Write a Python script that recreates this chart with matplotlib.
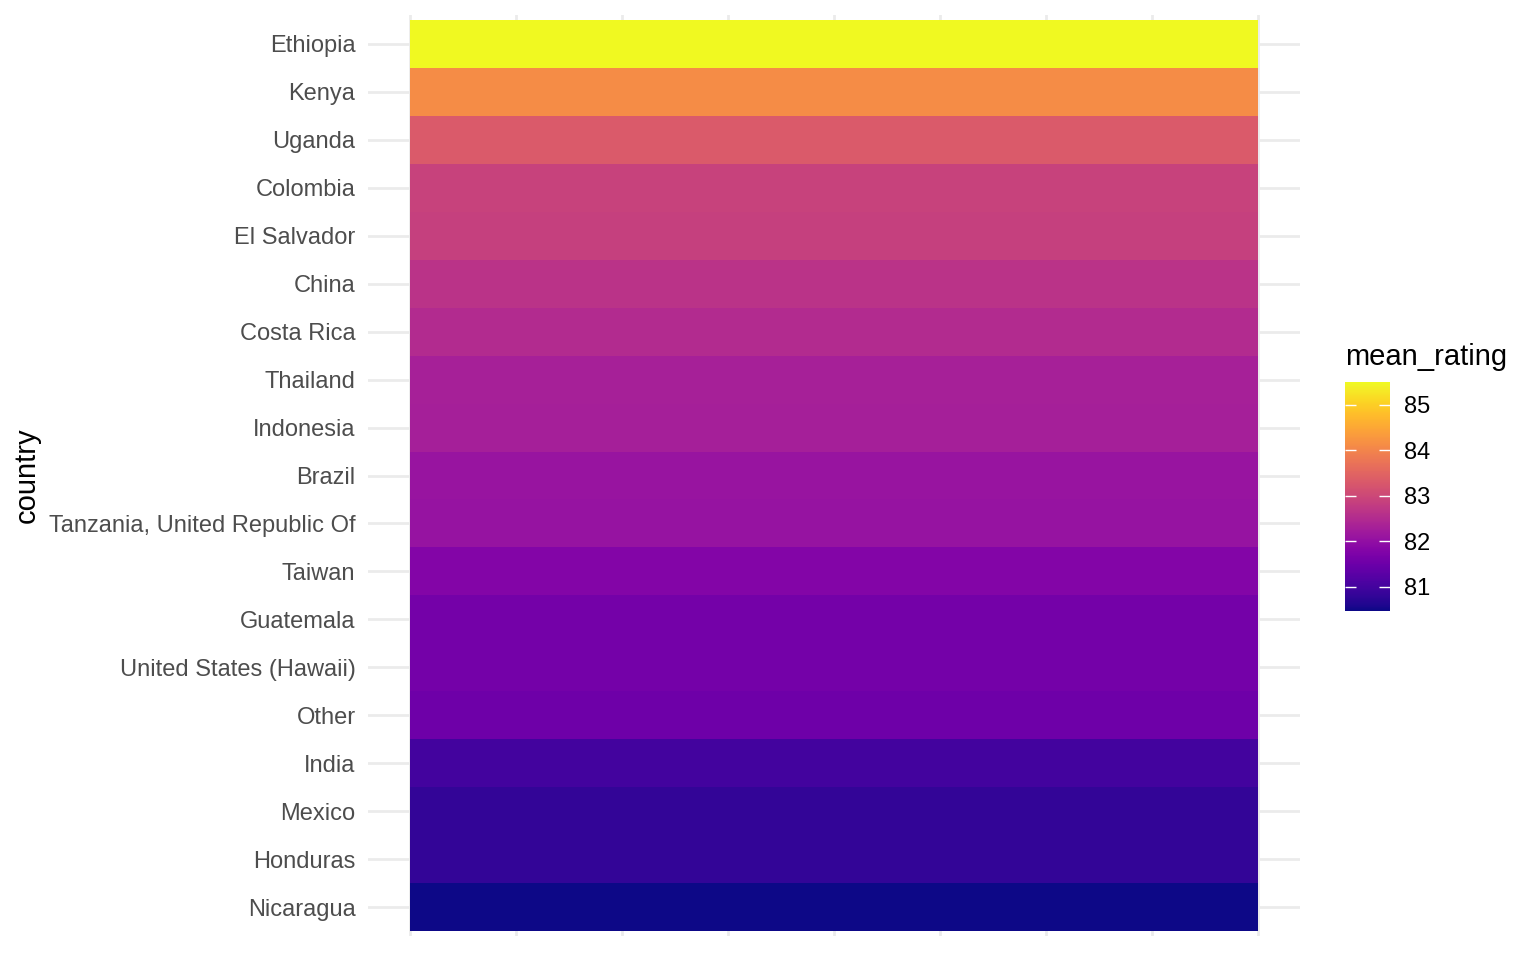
import matplotlib.pyplot as plt
import numpy as np

plt.rcParams["font.family"] = ["Liberation Sans", "DejaVu Sans"]

# data (top to bottom)
countries = ["Ethiopia", "Kenya", "Uganda", "Colombia", "El Salvador", "China",
             "Costa Rica", "Thailand", "Indonesia", "Brazil",
             "Tanzania, United Republic Of", "Taiwan", "Guatemala",
             "United States (Hawaii)", "Other", "India", "Mexico", "Honduras",
             "Nicaragua"]
mean_rating = [85.50, 84.12, 83.30, 82.90, 82.85, 82.65, 82.50, 82.30, 82.28,
               82.10, 82.08, 81.80, 81.60, 81.60, 81.52, 81.00, 80.82, 80.81,
               80.47]
legend_ticks = [81, 82, 83, 84, 85]

n = len(countries)
W, H = 1536, 960
fig = plt.figure(figsize=(W / 100, H / 100), dpi=100)
ax = fig.add_axes([368 / W, 24 / H, (1300 - 368) / W, (945 - 24) / H])

vmin, vmax = min(mean_rating), max(mean_rating)
vals = np.array(mean_rating[::-1]).reshape(-1, 1)
mesh = ax.pcolormesh([0, 8], np.arange(n + 1) - 0.5, vals, cmap="plasma",
                     vmin=vmin, vmax=vmax, zorder=2)

ax.set_xlim(-0.4, 8.4)
ax.set_ylim(-0.6, n - 0.4)
ax.set_yticks(range(n))
ax.set_yticklabels(countries[::-1], fontsize=17, color="#4d4d4d")
ax.set_xticks(range(9))
ax.set_xticklabels([])
ax.tick_params(length=0, pad=9)
ax.grid(True, color="#ebebeb", linewidth=2, zorder=0)
ax.set_axisbelow(True)
for s in ax.spines.values():
    s.set_visible(False)
ax.set_ylabel("country", fontsize=21)
ax.yaxis.set_label_coords(-0.351, 0.5)

# legend
cax = fig.add_axes([1345 / W, (960 - 611) / H, 45 / W, (611 - 382) / H])
cb = fig.colorbar(mesh, cax=cax, ticks=legend_ticks)
cb.outline.set_visible(False)
cax.tick_params(axis="y", which="both", direction="in", color="white",
                length=8, width=1, left=True, right=True, labelsize=17, pad=10)
cax.set_title("mean_rating", fontsize=21, loc="left", pad=12)

fig.savefig("out.png", dpi=100)
